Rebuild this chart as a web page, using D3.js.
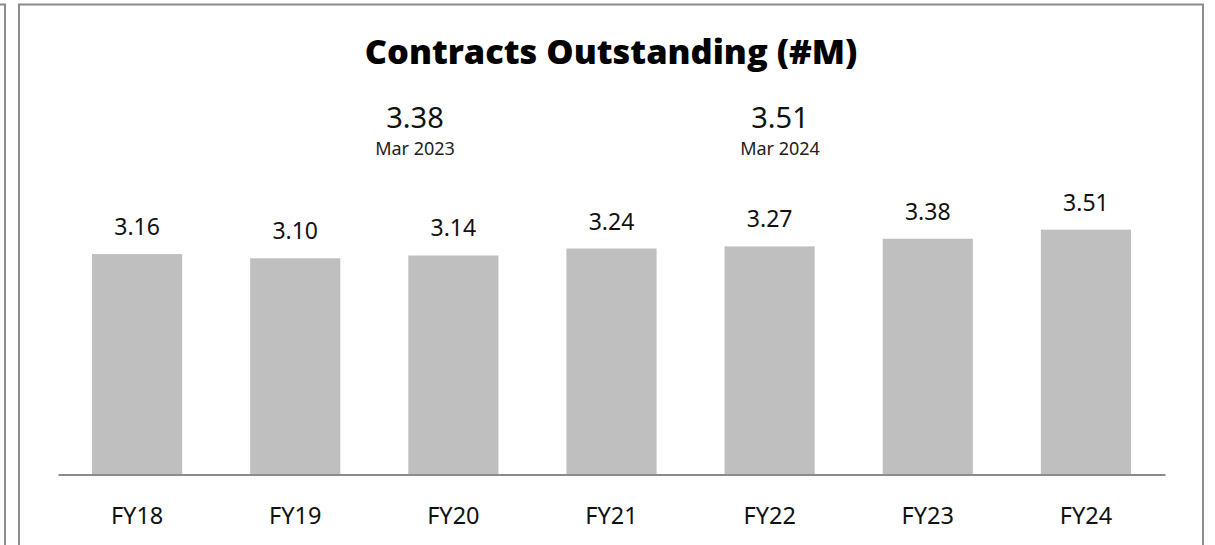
<!DOCTYPE html>
<html>
<head>
<meta charset="utf-8">
<script src="https://cdn.jsdelivr.net/npm/d3@7"></script>
<style>
  body { margin: 0; background: #fff; }
  svg { display: block; }
</style>
</head>
<body>
<script>
// data
var categories = ["FY18", "FY19", "FY20", "FY21", "FY22", "FY23", "FY24"];
var values = [3.16, 3.10, 3.14, 3.24, 3.27, 3.38, 3.51];
var callouts = [
  {value: "3.38", label: "Mar 2023"},
  {value: "3.51", label: "Mar 2024"}
];
var title = "Contracts Outstanding (#M)";

var width = 1215, height = 545;
var svg = d3.select("body").append("svg").attr("width", width).attr("height", height);

// panel frames
svg.append("path")
  .attr("d", "M0,4.5 H5 V" + (height + 10))
  .attr("fill", "none").attr("stroke", "#8c8c8c").attr("stroke-width", 2);
svg.append("rect")
  .attr("x", 19).attr("y", 4.5).attr("width", 1184).attr("height", height + 20)
  .attr("fill", "none").attr("stroke", "#8c8c8c").attr("stroke-width", 2);

var t = svg.append("text")
  .attr("x", 611).attr("y", 64)
  .attr("text-anchor", "middle")
  .style("font-family", "'Open Sans', sans-serif")
  .style("font-weight", 800)
  .style("font-size", "30px")
  .attr("fill", "#000")
  .text(title);
// scale title so it spans about the same width as the original
var tw = t.node().getComputedTextLength();
t.style("font-size", (30 * 493 / tw) + "px");

var margin = {left: 58, right: 50, bottom: 70.5};
var base = height - margin.bottom;

var x = d3.scaleBand()
  .domain(categories)
  .range([margin.left, width - margin.right])
  .paddingInner(0.43)
  .paddingOuter(0.215);

var y = d3.scaleLinear()
  .domain([0, 4])
  .range([base, base - 279]);

var font = "'Noto Sans', 'Open Sans', sans-serif";

svg.selectAll(".bar")
  .data(values)
  .enter().append("rect")
  .attr("class", "bar")
  .attr("x", function(d, i) { return x(categories[i]); })
  .attr("width", x.bandwidth())
  .attr("y", function(d) { return y(d); })
  .attr("height", function(d) { return base - y(d); })
  .attr("fill", "#bfbfbf");

svg.selectAll(".val")
  .data(values)
  .enter().append("text")
  .attr("class", "val")
  .attr("x", function(d, i) { return x(categories[i]) + x.bandwidth() / 2; })
  .attr("y", function(d) { return y(d) - 19; })
  .attr("text-anchor", "middle")
  .style("font-family", font)
  .style("font-size", "23px")
  .attr("fill", "#111")
  .text(function(d) { return d.toFixed(2); });

// x axis: baseline line and category labels
var xAxis = d3.axisBottom(x).tickSize(0).tickPadding(33);
var gx = svg.append("g")
  .attr("transform", "translate(0," + base + ")")
  .call(xAxis);
gx.select(".domain")
  .attr("stroke", "#8c8c8c").attr("stroke-width", 2);
gx.selectAll("text")
  .style("font-family", font)
  .style("font-size", "23.5px")
  .attr("fill", "#111");

// header callouts
var calloutX = [415, 780];
var co = svg.selectAll(".callout")
  .data(callouts)
  .enter().append("g")
  .attr("class", "callout")
  .attr("transform", function(d, i) { return "translate(" + calloutX[i] + ",0)"; });
co.append("text")
  .attr("y", 128)
  .attr("text-anchor", "middle")
  .style("font-family", font)
  .style("font-size", "29px")
  .attr("fill", "#111")
  .text(function(d) { return d.value; });
co.append("text")
  .attr("y", 155)
  .attr("text-anchor", "middle")
  .style("font-family", font)
  .style("font-size", "18px")
  .attr("fill", "#222")
  .text(function(d) { return d.label; });
</script>
</body>
</html>
